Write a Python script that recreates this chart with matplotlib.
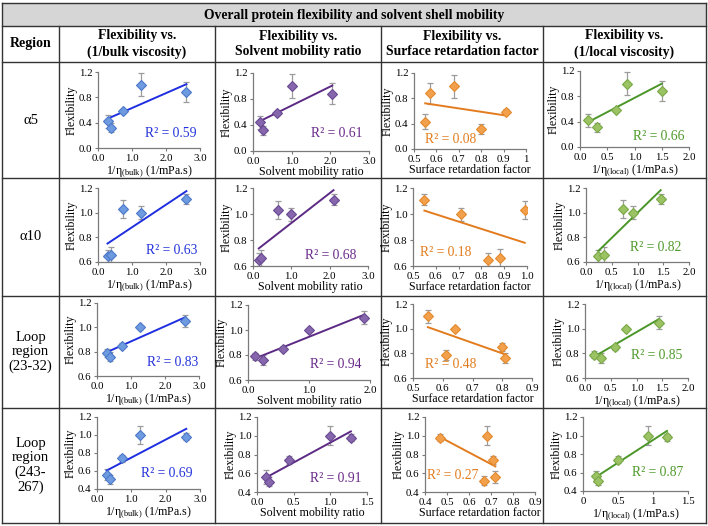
import numpy as np
import matplotlib
matplotlib.use("Agg")
import matplotlib.pyplot as plt
from matplotlib.patches import Rectangle
from matplotlib.ticker import FixedLocator, FixedFormatter

plt.rcParams['font.family'] = ['Liberation Serif', 'DejaVu Serif']
plt.rcParams['mathtext.fontset'] = 'custom'
plt.rcParams['mathtext.rm'] = 'Liberation Serif'
plt.rcParams['mathtext.it'] = 'Liberation Serif:italic'

W, H = 708, 526

title = "Overall protein flexibility and solvent shell mobility"
col_headers = ["Flexibility vs.\n(1/bulk viscosity)",
               "Flexibility vs.\nSolvent mobility ratio",
               "Flexibility vs.\nSurface retardation factor",
               "Flexibility vs.\n(1/local viscosity)"]
row_labels = ["α5", "α10", "Loop\nregion\n(23-32)", "Loop\nregion\n(243-\n267)"]

# ---- data (rows: α5, α10, Loop 23-32, Loop 243-267) ----
bulk_x = [[0.28, 0.37, 0.73, 1.25, 2.60],
          [0.28, 0.37, 0.73, 1.25, 2.60],
          [0.28, 0.37, 0.73, 1.25, 2.60],
          [0.28, 0.37, 0.73, 1.25, 2.60]]
bulk_y = [[0.42, 0.32, 0.59, 1.00, 0.88],
          [0.65, 0.66, 1.03, 1.00, 1.11],
          [0.79, 0.76, 0.85, 1.00, 1.05],
          [0.56, 0.51, 0.74, 1.00, 0.98]]
bulk_err = [[0.10, 0.07, 0.03, 0.18, 0.16],
            [0.05, 0.06, 0.07, 0.05, 0.04],
            [0.03, 0.04, 0.02, 0.01, 0.05],
            [0.06, 0.05, 0.04, 0.10, 0.04]]
bulk_r2 = ["0.59", "0.63", "0.83", "0.69"]

ratio_x = [[0.17, 0.25, 0.62, 1.00, 2.05],
           [0.15, 0.22, 0.65, 1.00, 2.10],
           [0.12, 0.25, 0.57, 1.00, 1.90],
           [0.12, 0.17, 0.44, 1.00, 1.28]]
ratio_y = [[0.44, 0.32, 0.59, 1.00, 0.88],
           [0.65, 0.66, 1.03, 1.00, 1.11],
           [0.79, 0.76, 0.85, 1.00, 1.10],
           [0.56, 0.51, 0.74, 1.00, 0.98]]
ratio_err = [[0.10, 0.07, 0.03, 0.18, 0.16],
             [0.05, 0.06, 0.07, 0.05, 0.04],
             [0.03, 0.04, 0.02, 0.01, 0.05],
             [0.07, 0.05, 0.04, 0.10, 0.04]]
ratio_r2 = ["0.61", "0.68", "0.94", "0.91"]

surf_x = [[0.55, 0.80, 0.91, 0.68, 0.57],
          [0.83, 0.88, 0.99, 0.71, 0.55],
          [0.61, 0.81, 0.80, 0.64, 0.55],
          [0.72, 0.67, 0.71, 0.68, 0.47]]
surf_y = [[0.43, 0.31, 0.59, 0.99, 0.88],
          [0.65, 0.66, 1.03, 1.00, 1.11],
          [0.79, 0.76, 0.85, 1.00, 1.10],
          [0.56, 0.52, 0.74, 1.00, 0.98]]
surf_err = [[0.12, 0.08, 0.04, 0.18, 0.17],
            [0.05, 0.07, 0.07, 0.05, 0.04],
            [0.04, 0.04, 0.03, 0.01, 0.05],
            [0.06, 0.05, 0.04, 0.10, 0.04]]
surf_r2 = ["0.08", "0.18", "0.48", "0.27"]

local_x = [[0.15, 0.31, 0.66, 0.87, 1.50],
           [0.24, 0.34, 0.72, 0.91, 1.45],
           [0.18, 0.31, 0.58, 0.80, 1.43],
           [0.18, 0.22, 0.50, 0.93, 1.20]]
local_y = [[0.42, 0.31, 0.59, 1.00, 0.88],
           [0.65, 0.66, 1.03, 1.00, 1.11],
           [0.79, 0.76, 0.85, 1.00, 1.05],
           [0.56, 0.51, 0.74, 1.00, 0.98]]
local_err = [[0.10, 0.07, 0.03, 0.18, 0.16],
             [0.05, 0.06, 0.07, 0.05, 0.04],
             [0.03, 0.04, 0.02, 0.01, 0.05],
             [0.06, 0.05, 0.04, 0.10, 0.04]]
local_r2 = ["0.66", "0.82", "0.85", "0.87"]

# axis ticks
y_ticks = [[0.0, 0.4, 0.8, 1.2], [0.6, 0.8, 1.0, 1.2],
           [0.6, 0.8, 1.0, 1.2], [0.4, 0.6, 0.8, 1.0, 1.2]]
bulk_ticks = [0.0, 1.0, 2.0, 3.0]
bulk_tlabels = ["0.0", "1.0", "2.0", "3.0"]
ratio_ticks = [[0.0, 1.0, 2.0, 3.0], [0.0, 1.0, 2.0, 3.0], [0.0, 1.0, 2.0], [0.0, 0.5, 1.0, 1.5]]
ratio_tlabels = [["0.0", "1.0", "2.0", "3.0"], ["0.0", "1.0", "2.0", "3.0"],
                 ["0.0", "1.0", "2.0"], ["0.0", "0.5", "1.0", "1.5"]]
surf_ticks = [[0.5, 0.6, 0.7, 0.8, 0.9, 1.0], [0.5, 0.6, 0.7, 0.8, 0.9, 1.0],
              [0.5, 0.6, 0.7, 0.8, 0.9], [0.4, 0.5, 0.6, 0.7, 0.8, 0.9]]
surf_tlabels = [["0.5", "0.6", "0.7", "0.8", "0.9", "1"],
                ["0.5", "0.6", "0.7", "0.8", "0.9", "1.0"],
                ["0.5", "0.6", "0.7", "0.8", "0.9"],
                ["0.4", "0.5", "0.6", "0.7", "0.8", "0.9"]]
local_ticks = [[0.0, 0.5, 1.0, 1.5, 2.0]] * 3 + [[0.0, 0.5, 1.0, 1.5]]
local_tlabels = [["0.0", "0.5", "1.0", "1.5", "2.0"]] * 3 + [["0", "0.5", "1", "1.5"]]

xlabels = [r"1/η$_{\mathrm{(bulk)}}$ (1/mPa.s)", "Solvent mobility ratio",
           "Surface retardation factor", r"1/η$_{\mathrm{(local)}}$ (1/mPa.s)"]

# styles
fills = ["#6e9be0", "#8667ad", "#f2a04c", "#9cc363"]
edges = ["#4c78c9", "#6a4a92", "#e38a2d", "#79a846"]
lines = ["#1f2fe0", "#5c2a84", "#e27c1e", "#4b9629"]
txtc = ["#2433d9", "#6a2a8a", "#e27c1e", "#4f9a2c"]

# axes rectangles in pixels (left, top, right, bottom)
rects = [
    [(98, 72, 200, 148), (253, 73, 369, 151), (414, 73, 526, 149), (580, 71, 689, 147)],
    [(98, 188, 200, 262), (253, 188, 368, 266), (413, 188, 527, 266), (586, 188, 689, 262)],
    [(97, 303, 199, 376), (248, 305, 370, 380), (413, 304, 532, 378), (585, 304, 688, 378)],
    [(97, 417, 200, 489), (257, 417, 367, 492), (425, 417, 535, 492), (583, 417, 688, 491)],
]
# R^2 label positions (axes fraction, ha)
r2pos = [
    [(0.97, 0.19, 'right'), (0.94, 0.23, 'right'), (0.10, 0.12, 'left'), (0.96, 0.14, 'right')],
    [(0.97, 0.15, 'right'), (0.90, 0.14, 'right'), (0.06, 0.17, 'left'), (0.93, 0.20, 'right')],
    [(0.99, 0.19, 'right'), (0.93, 0.21, 'right'), (0.10, 0.18, 'left'), (0.95, 0.31, 'right')],
    [(0.93, 0.22, 'right'), (0.95, 0.18, 'right'), (0.02, 0.22, 'left'), (0.95, 0.25, 'right')],
]

fig = plt.figure(figsize=(W / 100, H / 100), dpi=100)

bg = fig.add_axes([0, 0, 1, 1])
bg.set_xlim(0, W)
bg.set_ylim(H, 0)
bg.axis('off')

vx = [2, 59, 215, 381, 543, 706]
hy = [3, 26, 62, 178, 296, 408, 523]
bg.add_patch(Rectangle((vx[0], hy[0]), vx[-1] - vx[0], hy[1] - hy[0],
                       facecolor="#d6d6d6", edgecolor="none"))
for x in vx:
    y0 = hy[0] if x in (vx[0], vx[-1]) else hy[1]
    bg.plot([x, x], [y0, hy[-1]], color="#333333", lw=1.0)
for y in hy:
    bg.plot([vx[0], vx[-1]], [y, y], color="#333333", lw=1.0)

bg.text((vx[0] + vx[-1]) / 2, (hy[0] + hy[1]) / 2 + 0.5, title,
        ha='center', va='center', fontsize=9.8, fontweight='bold')
bg.text((vx[0] + vx[1]) / 2, (hy[1] + hy[2]) / 2, "Region",
        ha='center', va='center', fontsize=10, fontweight='bold')
for j, h in enumerate(col_headers):
    bg.text((vx[j + 1] + vx[j + 2]) / 2, (hy[1] + hy[2]) / 2, h,
            ha='center', va='center', fontsize=9.8, fontweight='bold',
            linespacing=1.25)
for i, r in enumerate(row_labels):
    bg.text((vx[0] + vx[1]) / 2, (hy[i + 2] + hy[i + 3]) / 2, r,
            ha='center', va='center', fontsize=10.5, linespacing=1.15)

xs_all = [bulk_x, ratio_x, surf_x, local_x]
ys_all = [bulk_y, ratio_y, surf_y, local_y]
es_all = [bulk_err, ratio_err, surf_err, local_err]
r2_all = [bulk_r2, ratio_r2, surf_r2, local_r2]
xt_all = [[bulk_ticks] * 4, ratio_ticks, surf_ticks, local_ticks]
xl_all = [[bulk_tlabels] * 4, ratio_tlabels, surf_tlabels, local_tlabels]

for i in range(4):
    for j in range(4):
        l, t, r, b = rects[i][j]
        ax = fig.add_axes([l / W, 1 - b / H, (r - l) / W, (b - t) / H])
        x = np.array(xs_all[j][i])
        y = np.array(ys_all[j][i])
        e = np.array(es_all[j][i])
        ax.errorbar(x, y, yerr=e, fmt='none', ecolor="#9c9c9c",
                    elinewidth=0.9, capsize=2.5, capthick=0.9, zorder=2)
        ax.plot(x, y, 'D', ms=5, mfc=fills[j], mec=edges[j], mew=0.8, zorder=3)
        k, c0 = np.polyfit(x, y, 1)
        xx = np.array([x.min(), x.max()])
        ax.plot(xx, k * xx + c0, color=lines[j], lw=1.4, zorder=2.5)
        xt = xt_all[j][i]
        ax.set_xlim(xt[0], xt[-1])
        yt = y_ticks[i]
        ax.set_ylim(yt[0], yt[-1])
        ax.xaxis.set_major_locator(FixedLocator(xt))
        ax.xaxis.set_major_formatter(FixedFormatter(xl_all[j][i]))
        ax.yaxis.set_major_locator(FixedLocator(yt))
        ax.yaxis.set_major_formatter(FixedFormatter([f"{v:.1f}" for v in yt]))
        for s in ['top', 'right']:
            ax.spines[s].set_visible(False)
        for s in ['left', 'bottom']:
            ax.spines[s].set_color("#7a7a7a")
            ax.spines[s].set_linewidth(0.9)
        ax.tick_params(length=2.5, width=0.8, color="#7a7a7a", labelsize=7.8, pad=1.5)
        ax.set_facecolor('none')
        ax.set_xlabel(xlabels[j], fontsize=8.6, labelpad=0.5)
        ax.set_ylabel("Flexibility", fontsize=8.6, labelpad=1)
        px, py, ha = r2pos[i][j]
        ax.text(px, py, "R² = " + r2_all[j][i], transform=ax.transAxes,
                ha=ha, va='center', fontsize=9.8, color=txtc[j])

fig.savefig("out.png", dpi=100)
